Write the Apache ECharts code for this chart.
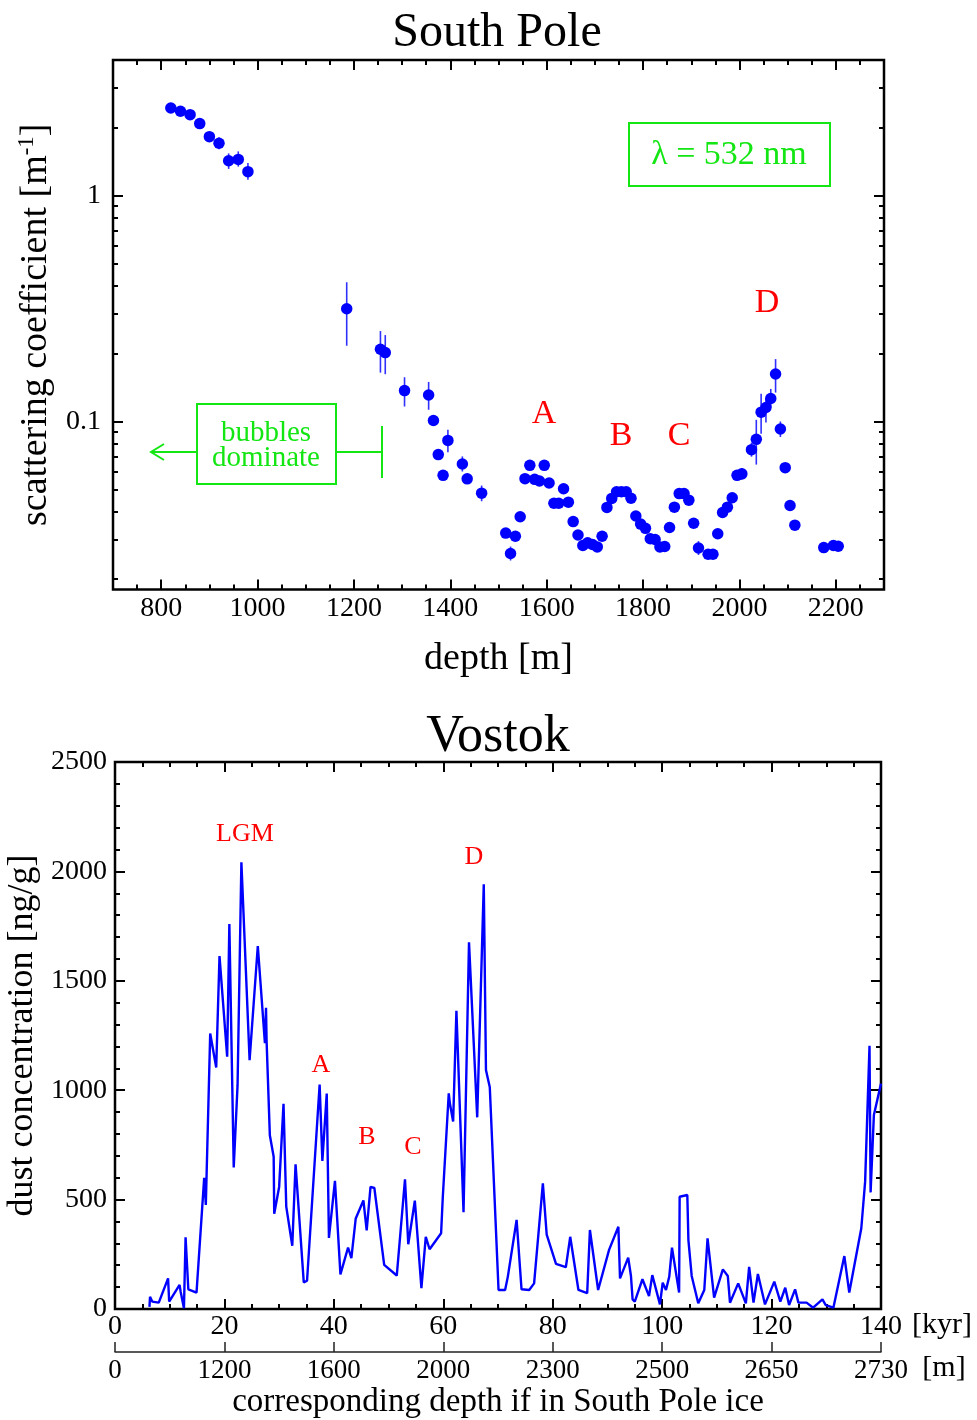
<!DOCTYPE html>
<html>
<head>
<meta charset="utf-8">
<script src="https://cdn.jsdelivr.net/npm/echarts@6.0.0/dist/echarts.min.js"></script>
<style>
  html, body { margin: 0; padding: 0; background: #fff; }
  #chart { width: 977px; height: 1420px; }
</style>
</head>
<body>
<div id="chart"></div>
<script>
// South Pole scattering coefficient (depth m, value m^-1)
const spDepth = [820, 840, 860, 880, 900, 920, 940, 960, 980,
  1185, 1255, 1265, 1305, 1355, 1365, 1375, 1385, 1395, 1425, 1435, 1465,
  1515, 1525, 1535, 1545, 1555, 1565, 1575, 1585, 1595, 1605, 1615, 1625, 1635, 1645,
  1655, 1665, 1675, 1685, 1695, 1705, 1715, 1725, 1735, 1745, 1755, 1765, 1775, 1785,
  1795, 1805, 1815, 1825, 1835, 1845, 1855, 1865, 1875, 1885, 1895, 1905, 1915,
  1935, 1945, 1955, 1965, 1975, 1985, 1995, 2005, 2025, 2035, 2045, 2055, 2065, 2075,
  2085, 2095, 2105, 2115, 2175, 2195, 2205];
const spValue = [2.45, 2.37, 2.29, 2.09, 1.83, 1.71, 1.43, 1.45, 1.28,
  0.316, 0.209, 0.202, 0.137, 0.131, 0.101, 0.0713, 0.0577, 0.0824, 0.0648, 0.0557, 0.0481,
  0.032, 0.026, 0.031, 0.0378, 0.0558, 0.0639, 0.0554, 0.0545, 0.0639, 0.0534, 0.0434, 0.0434, 0.0503, 0.0439,
  0.036, 0.0314, 0.0282, 0.029, 0.0285, 0.0278, 0.031, 0.0416, 0.0456, 0.0488, 0.0488, 0.0488, 0.0457, 0.0381,
  0.0351, 0.0336, 0.0302, 0.030, 0.0278, 0.0279, 0.0339, 0.0417, 0.0479, 0.0479, 0.0448, 0.0354, 0.0275,
  0.0258, 0.0258, 0.0318, 0.0395, 0.0417, 0.0459, 0.0577, 0.0586, 0.075, 0.0833, 0.110, 0.1153, 0.1264, 0.1624,
  0.0926, 0.0624, 0.0424, 0.0347, 0.0276, 0.0282, 0.028];
// error bars (lower, upper); null where hidden by the dot
const spErrLo = [null, null, null, null, 1.74, 1.61, 1.316, 1.347, 1.177,
  0.2166, 0.1646, 0.162, 0.1165, 0.1127, null, null, null, 0.073, 0.060, null, 0.0443,
  null, 0.0242, null, null, null, null, null, null, null, null, null, null, null, null,
  null, null, null, null, null, null, null, null, null, null, null, null, null, null,
  null, null, null, null, null, null, null, null, null, null, null, null, 0.0256,
  null, null, null, null, null, null, null, 0.0552, 0.0698, 0.0644, 0.0882, 0.099, 0.1153, 0.1343,
  0.0853, null, null, null, null, null, null];
const spErrHi = [null, null, null, null, 1.92, 1.82, 1.542, 1.574, 1.398,
  0.414, 0.2516, 0.2415, 0.157, 0.1497, null, null, null, 0.0919, 0.070, null, 0.052,
  null, 0.0279, null, null, null, null, null, null, null, null, null, null, null, null,
  null, null, null, null, null, null, null, null, null, null, null, null, null, null,
  null, null, null, null, null, null, null, null, null, null, null, null, 0.0295,
  null, null, null, null, null, null, null, 0.0622, 0.0806, 0.1017, 0.1326, 0.1269, 0.1394, 0.189,
  0.100, null, null, null, null, null, null];

// Vostok dust (age kyr, ng/g)
const vostokAge = [6.3, 6.4, 6.8, 8.0, 9.7, 9.9, 11.8, 12.0, 12.6, 12.9, 13.4, 14.9,
  16.3, 16.6, 17.4, 18.5, 19.1, 20.5, 20.9, 21.7, 22.4, 23.1, 24.6, 26.1, 27.4, 27.6, 27.7,
  28.3, 29.0, 29.1, 30.0, 30.8, 31.3, 32.4, 33.0, 34.5, 35.1, 37.4, 37.9, 38.7, 39.1, 40.2,
  41.2, 42.6, 43.2, 44.0, 45.4, 46.0, 46.7, 47.4, 49.2, 51.5, 53.0, 53.6, 54.8, 55.3, 56.0,
  56.8, 57.5, 59.6, 59.9, 61.0, 61.2, 61.8, 62.4, 63.7, 64.7, 66.2, 67.4, 67.8, 68.5, 70.1,
  71.3, 71.8, 73.4, 74.3, 75.7, 76.6, 78.2, 78.9, 80.6, 82.4, 83.2, 84.7, 86.3, 86.8, 88.3,
  90.3, 92.0, 92.3, 93.8, 94.3, 94.6, 95.0, 96.4, 97.6, 98.2, 99.6, 100.1, 100.7, 101.3,
  101.8, 103.1, 103.2, 104.6, 104.8, 105.4, 106.6, 107.7, 108.3, 109.5, 111.1, 112.0, 112.4,
  113.9, 115.3, 115.9, 116.7, 117.5, 118.8, 120.5, 121.6, 122.5, 123.2, 124.3, 124.9, 126.4,
  127.6, 129.3, 129.9, 131.3, 133.3, 134.2, 136.4, 137.1, 137.9, 138.1, 138.7, 140];
const vostokDust = [10, 56, 34, 29, 140, 34, 110, 79, 3, 328, 90, 75,
  599, 476, 1259, 1104, 1613, 1153, 1760, 647, 1023, 2042, 1137, 1659, 1215, 1377, 1230,
  794, 696, 435, 558, 938, 468, 289, 661, 122, 129, 1026, 677, 985, 325, 586,
  158, 281, 232, 414, 496, 359, 558, 553, 202, 153, 593, 296, 495, 330, 95,
  330, 273, 346, 506, 986, 940, 857, 1363, 442, 1676, 876, 1941, 1092, 1013, 87,
  87, 148, 407, 90, 87, 117, 574, 340, 206, 191, 330, 87, 72, 361, 87,
  270, 376, 140, 235, 151, 44, 34, 136, 59, 155, 21, 120, 87, 148,
  280, 75, 513, 521, 315, 151, 26, 87, 323, 52, 181, 151, 29,
  117, 26, 193, 29, 160, 21, 125, 34, 97, 18, 90, 29, 29,
  6, 44, 18, 6, 242, 75, 369, 582, 1203, 533, 887, 1030];

// tick labels
const spDepthTicks = [800, 1000, 1200, 1400, 1600, 1800, 2000, 2200];
const spValueTicks = [0.1, 1];
const spValueMinor = [0.02, 0.03, 0.04, 0.05, 0.06, 0.07, 0.08, 0.09,
  0.2, 0.3, 0.4, 0.5, 0.6, 0.7, 0.8, 0.9, 2, 3, 4];
const ageTicks = [0, 20, 40, 60, 80, 100, 120, 140];
const depthLabels = ['0', '1200', '1600', '2000', '2300', '2500', '2650', '2730'];

const FONT = 'Liberation Serif';
const GREEN = '#14e614';
const BLUE = '#0000ff';
const RED = '#ff0000';

const spDepthMinor = [];
for (let d = 700; d <= 2300; d += 50) spDepthMinor.push(d);
const LMIN = Math.log10(0.018), LMAX = Math.log10(4);
const lg = (a) => a.map((v) => Math.log10(v));
const plain = (v) => String(v);

const chart = echarts.init(document.getElementById('chart'));

const tickStyle = { color: '#000', width: 2 };
const noLine = { show: false, onZero: false };

function spX(position, ticks, len, labels) {
  return {
    gridIndex: 0, type: 'value', min: 700, max: 2300, position,
    axisLine: noLine, splitLine: { show: false },
    axisTick: { inside: true, length: len, customValues: ticks, lineStyle: tickStyle },
    axisLabel: labels
      ? { customValues: spDepthTicks, margin: 5, fontSize: 28, fontFamily: FONT, color: '#000', formatter: plain }
      : { show: false }
  };
}
function spY(position, ticks, len, labels) {
  return {
    gridIndex: 0, type: 'value', min: LMIN, max: LMAX, position,
    axisLine: noLine, splitLine: { show: false },
    axisTick: { inside: true, length: len, customValues: lg(ticks), lineStyle: tickStyle },
    axisLabel: labels
      ? {
          customValues: lg(spValueTicks), margin: 12, fontSize: 28, fontFamily: FONT, color: '#000',
          formatter: (v) => String(Number(Math.pow(10, v).toPrecision(3)))
        }
      : { show: false }
  };
}
function vkX(position, labels) {
  return {
    gridIndex: 1, type: 'value', min: 0, max: 140, interval: 20, position,
    axisLine: noLine, splitLine: { show: false },
    axisTick: { inside: true, length: 10, lineStyle: tickStyle },
    minorTick: { show: true, splitNumber: 4, length: 5, lineStyle: tickStyle },
    axisLabel: labels
      ? { margin: 4, fontSize: 28, fontFamily: FONT, color: '#000', formatter: plain }
      : { show: false }
  };
}
function vkY(position, labels) {
  return {
    gridIndex: 1, type: 'value', min: 0, max: 2500, interval: 500, position,
    axisLine: noLine, splitLine: { show: false },
    axisTick: { inside: true, length: 10, lineStyle: tickStyle },
    minorTick: { show: true, splitNumber: 5, length: 5, lineStyle: tickStyle },
    axisLabel: labels
      ? { margin: 8, fontSize: 28, fontFamily: FONT, color: '#000', formatter: plain }
      : { show: false }
  };
}

const xTop = spX('bottom', spDepthTicks, 10, true);
xTop.name = 'depth [m]';
xTop.nameLocation = 'middle';
xTop.nameGap = 51;
xTop.nameTextStyle = { fontSize: 38, fontFamily: FONT, color: '#000' };

const yTop = spY('left', spValueTicks, 10, true);
yTop.name = '{a|scattering coefficient [m}{s|-1}{a|]}';
yTop.nameLocation = 'middle';
yTop.nameGap = 38;
yTop.nameTextStyle = {
  color: '#000',
  rich: {
    a: { fontSize: 38, fontFamily: FONT, color: '#000', lineHeight: 42 },
    s: { fontSize: 23, fontFamily: FONT, color: '#000', lineHeight: 16, verticalAlign: 'top' }
  }
};

const xAge = vkX('bottom', true);
const yDust = vkY('left', true);
yDust.name = 'dust concentration [ng/g]';
yDust.nameLocation = 'middle';
yDust.nameGap = 72;
yDust.nameTextStyle = { fontSize: 36, fontFamily: FONT, color: '#000' };

const xDepth = {
  gridIndex: 1, type: 'value', min: 0, max: 140, interval: 20, position: 'bottom', offset: 43,
  axisLine: { show: true, onZero: false, lineStyle: { color: '#222', width: 1.5 } },
  splitLine: { show: false },
  axisTick: { inside: true, length: 10, lineStyle: { color: '#222', width: 1.5 } },
  axisLabel: {
    margin: 5, fontSize: 27, fontFamily: FONT, color: '#000',
    formatter: (v) => depthLabels[ageTicks.indexOf(Math.round(v))]
  },
  name: 'corresponding depth if in South Pole ice',
  nameLocation: 'middle', nameGap: 34,
  nameTextStyle: { fontSize: 33, fontFamily: FONT, color: '#000' }
};

const scatterData = spDepth.map((d, i) => [d, spValue[i]]);
const errData = [];
spDepth.forEach((d, i) => {
  if (spErrLo[i] != null) errData.push([d, spErrLo[i], spErrHi[i]]);
});
const lineData = vostokAge.map((a, i) => [a, vostokDust[i]]);

function txt(text, x, y, size, color) {
  return {
    type: 'text', x, y, z: 100,
    style: { text, fontSize: size, fontFamily: FONT, fill: color, align: 'center', verticalAlign: 'middle' }
  };
}
function seg(x1, y1, x2, y2) {
  return { type: 'line', z: 100, shape: { x1, y1, x2, y2 }, style: { stroke: GREEN, lineWidth: 2 } };
}

const option = {
  animation: false,
  backgroundColor: '#fff',
  grid: [
    { left: 113, top: 60, width: 771, height: 529.5, show: true, borderColor: '#000', borderWidth: 2.5,
      backgroundColor: 'transparent', outerBoundsMode: 'none', containLabel: false },
    { left: 115, top: 762, width: 766, height: 547, show: true, borderColor: '#000', borderWidth: 2.5,
      backgroundColor: 'transparent', outerBoundsMode: 'none', containLabel: false }
  ],
  xAxis: [
    xTop,
    spX('bottom', spDepthMinor, 5, false),
    spX('top', spDepthTicks, 10, false),
    spX('top', spDepthMinor, 5, false),
    xAge,
    vkX('top', false),
    xDepth
  ],
  yAxis: [
    {
      gridIndex: 0, type: 'log', logBase: 10, min: 0.018, max: 4,
      axisLine: noLine, axisTick: { show: false }, axisLabel: { show: false }, splitLine: { show: false }
    },
    yTop,
    spY('left', spValueMinor, 5, false),
    spY('right', spValueTicks, 10, false),
    spY('right', spValueMinor, 5, false),
    yDust,
    vkY('right', false)
  ],
  series: [
    {
      type: 'custom', xAxisIndex: 0, yAxisIndex: 0, data: errData, z: 3,
      encode: { x: 0, y: [1, 2] },
      renderItem: (params, api) => {
        const x = api.value(0);
        const a = api.coord([x, api.value(1)]);
        const b = api.coord([x, api.value(2)]);
        return {
          type: 'line',
          shape: { x1: a[0], y1: a[1], x2: b[0], y2: b[1] },
          style: { stroke: '#3030ff', lineWidth: 1.6 }
        };
      }
    },
    {
      type: 'scatter', xAxisIndex: 0, yAxisIndex: 0, data: scatterData, z: 4,
      symbol: 'circle', symbolSize: 11.5, itemStyle: { color: BLUE, opacity: 1 }
    },
    {
      type: 'line', xAxisIndex: 4, yAxisIndex: 5, data: lineData,
      showSymbol: false, symbol: 'none', lineStyle: { color: BLUE, width: 2.4 }
    }
  ],
  graphic: [
    txt('South Pole', 497, 33, 48, '#000'),
    txt('Vostok', 498, 737, 52, '#000'),
    // lambda box
    { type: 'rect', z: 100, shape: { x: 629, y: 123, width: 201, height: 63 }, style: { fill: 'none', stroke: GREEN, lineWidth: 2 } },
    txt('λ = 532 nm', 729, 155, 34, GREEN),
    // bubbles box
    { type: 'rect', z: 100, shape: { x: 197, y: 404, width: 139, height: 80 }, style: { fill: 'none', stroke: GREEN, lineWidth: 2 } },
    txt('bubbles', 266, 433, 29, GREEN),
    txt('dominate', 266, 458, 29, GREEN),
    seg(197, 452, 151, 452),
    { type: 'polyline', z: 100, shape: { points: [[164, 444], [151, 452], [164, 460]] }, style: { fill: 'none', stroke: GREEN, lineWidth: 2 } },
    seg(336, 452, 382, 452),
    seg(382, 426, 382, 478),
    // event labels, South Pole
    txt('A', 544, 414, 34, RED),
    txt('B', 621, 436, 34, RED),
    txt('C', 679, 436, 34, RED),
    txt('D', 767, 303, 34, RED),
    // event labels, Vostok
    txt('LGM', 245, 834, 26, RED),
    txt('A', 321, 1065, 26, RED),
    txt('B', 367, 1137, 26, RED),
    txt('C', 413, 1147, 26, RED),
    txt('D', 474, 857, 26, RED),
    // units
    txt('[kyr]', 942, 1325, 30, '#000'),
    txt('[m]', 944, 1368, 30, '#000')
  ]
};

chart.setOption(option);
</script>
</body>
</html>
